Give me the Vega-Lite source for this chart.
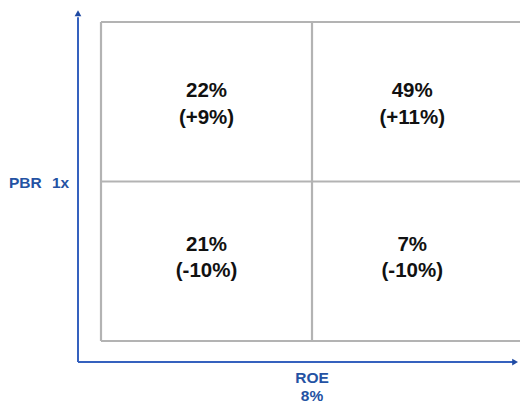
{
  "$schema": "https://vega.github.io/schema/vega-lite/v6.json",
  "width": 419,
  "height": 319,
  "autosize": {"type": "none"},
  "padding": {"left": 101, "top": 22, "right": 0, "bottom": 62},
  "background": "white",
  "config": {"view": {"stroke": null}},
  "datasets": {
    "grid": [
      {"x": 0, "x2": 16, "y": 2, "y2": 2},
      {"x": 0, "x2": 16, "y": 1, "y2": 1},
      {"x": 0, "x2": 16, "y": 0, "y2": 0},
      {"x": 0, "x2": 0, "y": 0, "y2": 2},
      {"x": 8, "x2": 8, "y": 0, "y2": 2}
    ],
    "axes": [
      {"x": -0.872, "x2": -0.872, "y": -0.132, "y2": 2.03},
      {"x": -0.872, "x2": 15.65, "y": -0.132, "y2": -0.132}
    ],
    "arrows": [
      {"x": -0.872, "y": 2.055, "shape": "triangle-up"},
      {"x": 15.7, "y": -0.132, "shape": "triangle-right"}
    ],
    "cells": [
      {"x": 4, "y": 1.567, "text": "22%"},
      {"x": 4, "y": 1.4, "text": "(+9%)"},
      {"x": 11.8, "y": 1.567, "text": "49%"},
      {"x": 11.8, "y": 1.4, "text": "(+11%)"},
      {"x": 4, "y": 0.602, "text": "21%"},
      {"x": 4, "y": 0.439, "text": "(-10%)"},
      {"x": 11.8, "y": 0.602, "text": "7%"},
      {"x": 11.8, "y": 0.439, "text": "(-10%)"}
    ],
    "labels": [
      {"x": -2.87, "y": 0.99, "text": "PBR"},
      {"x": -1.535, "y": 0.99, "text": "1x"},
      {"x": 8, "y": -0.235, "text": "ROE"},
      {"x": 8, "y": -0.347, "text": "8%"}
    ]
  },
  "layer": [
    {
      "data": {"name": "grid"},
      "mark": {"type": "rule", "color": "#b3b3b3", "strokeWidth": 2.2},
      "encoding": {
        "x": {"field": "x", "type": "quantitative", "scale": {"domain": [0, 15.886], "nice": false, "zero": false}, "axis": null},
        "x2": {"field": "x2"},
        "y": {"field": "y", "type": "quantitative", "scale": {"domain": [0, 2], "nice": false, "zero": false}, "axis": null},
        "y2": {"field": "y2"}
      }
    },
    {
      "data": {"name": "axes"},
      "mark": {"type": "rule", "color": "#3561be", "strokeWidth": 2},
      "encoding": {
        "x": {"field": "x", "type": "quantitative"},
        "x2": {"field": "x2"},
        "y": {"field": "y", "type": "quantitative"},
        "y2": {"field": "y2"}
      }
    },
    {
      "data": {"name": "arrows"},
      "mark": {"type": "point", "filled": true, "color": "#1f4aa3", "opacity": 1, "size": 45},
      "encoding": {
        "x": {"field": "x", "type": "quantitative"},
        "y": {"field": "y", "type": "quantitative"},
        "shape": {"field": "shape", "type": "nominal", "scale": null}
      }
    },
    {
      "data": {"name": "cells"},
      "mark": {"type": "text", "font": "Liberation Sans", "fontSize": 20.5, "fontWeight": "bold", "color": "#111111", "baseline": "middle", "align": "center"},
      "encoding": {
        "x": {"field": "x", "type": "quantitative"},
        "y": {"field": "y", "type": "quantitative"},
        "text": {"field": "text"}
      }
    },
    {
      "data": {"name": "labels"},
      "mark": {"type": "text", "font": "Liberation Sans", "fontSize": 15.5, "fontWeight": "bold", "color": "#2452a3", "baseline": "middle", "align": "center"},
      "encoding": {
        "x": {"field": "x", "type": "quantitative"},
        "y": {"field": "y", "type": "quantitative"},
        "text": {"field": "text"}
      }
    }
  ]
}
